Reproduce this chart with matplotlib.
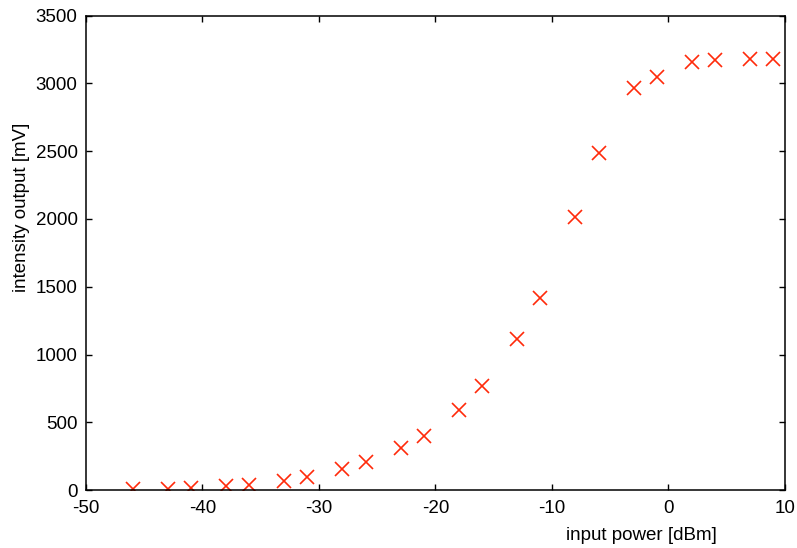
import matplotlib
matplotlib.use("Agg")
import matplotlib.pyplot as plt

plt.rcParams['font.family'] = ['Liberation Sans', 'DejaVu Sans']
plt.rcParams['axes.unicode_minus'] = False

power_dbm = [-46, -43, -41, -38, -36, -33, -31, -28, -26, -23, -21, -18, -16,
             -13, -11, -8, -6, -3, -1, 2, 4, 7, 9]
intensity_mv = [7, 10, 12, 30, 40, 70, 95, 152, 209, 308, 398, 590, 770,
                1114, 1419, 2012, 2485, 2966, 3050, 3161, 3173, 3178, 3178]

x_ticks = [-50, -40, -30, -20, -10, 0, 10]
y_ticks = [0, 500, 1000, 1500, 2000, 2500, 3000, 3500]

fig = plt.figure(figsize=(7.97, 5.48), dpi=100)
ax = fig.add_axes([0.1079, 0.1058, 0.877, 0.8655])

ax.plot(power_dbm, intensity_mv, linestyle='none', marker='x',
        color='#ff2a0a', markersize=10, markeredgewidth=1.2)

ax.set_xlim(-50, 10)
ax.set_ylim(0, 3500)
ax.set_xticks(x_ticks)
ax.set_yticks(y_ticks)
ax.tick_params(direction='in', top=True, right=True, length=4.5, width=1.0,
               labelsize=13.5)
ax.tick_params(axis='x', pad=7)
ax.tick_params(axis='y', pad=6)
for s in ax.spines.values():
    s.set_linewidth(1.1)

ax.set_xlabel('input power [dBm]', fontsize=13.5)
ax.set_ylabel('intensity output [mV]', fontsize=13.5)
ax.xaxis.set_label_coords(0.795, -0.079)
ax.yaxis.set_label_coords(-0.08, 0.596)

fig.savefig('out.png', dpi=100)
